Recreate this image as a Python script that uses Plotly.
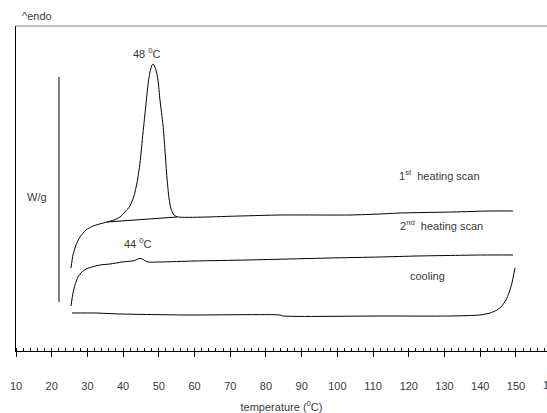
import plotly.graph_objects as go

# 1st heating scan (temperature, signal)
heat1_t = [25.40, 25.96, 26.80, 27.92, 29.60, 31.56, 35.48, 37.44, 39.12, 40.52, 41.92, 43.04, 43.88,
           44.72, 45.56, 46.40, 46.96, 47.52, 48.08, 48.36, 48.64, 49.20, 49.76, 50.32, 51.16, 51.72,
           52.28, 52.84, 53.40, 54.24, 55.36, 72.73, 83.93, 103.53, 111.93, 117.53, 132.37, 142.73, 149.17]
heat1_v = [83, 96, 106, 114, 121, 125, 129, 131, 134, 139, 145, 155, 168,
           188, 218, 247, 266, 279, 286, 287, 286, 281, 271, 251, 226, 201,
           173, 153, 142, 136, 134, 135, 136, 136, 137, 138, 139, 140, 140]

# integration baseline under the melting peak
base_t = [35.48, 55.08]
base_v = [129, 134]

# 2nd heating scan
heat2_t = [25.40, 25.96, 26.52, 27.36, 28.48, 29.60, 31.28, 33.52, 36.32, 39.68, 42.48, 43.60, 44.44,
           45.00, 45.84, 46.96, 50.32, 60.13, 74.69, 86.73, 97.93, 111.93, 122.29, 140.77, 149.17]
heat2_v = [45, 58, 66, 74, 79, 82, 84, 86, 87, 89, 90, 91, 92.5,
           92.5, 91, 89, 89, 90, 91, 92, 93, 94, 95, 96, 96]

# cooling
cool_t = [25.68, 32.12, 39.12, 57.88, 83.93, 84.77, 111.93, 131.53, 139.93, 142.73, 144.69, 146.07,
          147.21, 148.05, 148.89, 149.73]
cool_v = [38, 38, 37, 36, 36, 35, 35, 35, 36, 38, 41, 45, 51, 58, 68, 83]

# W/g scale bar
bar_t = [22.04, 22.04]
bar_v = [49, 274]

tick_vals = list(range(10, 161, 10))
x_range = [10, 158.7]

fig = go.Figure()
for t, v, shape in [(heat1_t, heat1_v, "spline"), (base_t, base_v, "linear"),
                    (heat2_t, heat2_v, "spline"), (cool_t, cool_v, "spline"),
                    (bar_t, bar_v, "linear")]:
    ln = dict(color="black", width=1, shape=shape)
    if shape == "spline":
        ln["smoothing"] = 0.6
    fig.add_trace(go.Scatter(x=t, y=v, mode="lines", line=ln, showlegend=False, hoverinfo="skip"))

txt = dict(family="Liberation Sans, Arial, sans-serif", size=11, color="#3a3a3a")
ann = [
    dict(x=46.68, y=298, text="48 <sup>0</sup>C"),
    dict(x=44.16, y=108, text="44 <sup>0</sup>C"),
    dict(x=128.73, y=176, text="1<sup>st</sup>  heating scan"),
    dict(x=129.29, y=126, text="2<sup>nd</sup>  heating scan"),
    dict(x=125.37, y=75, text="cooling"),
    dict(x=15.88, y=154, text="W/g"),
]
annotations = [dict(a, xref="x", yref="y", showarrow=False, font=txt) for a in ann]
annotations.append(dict(x=21 / 531, y=(351 - 16) / 325, xref="paper", yref="paper", text="^endo",
                        showarrow=False, font=txt, xanchor="center", yanchor="middle"))
# last tick label, partly cut off by the page edge as in the reference
last_frac = (tick_vals[-1] - x_range[0]) / (x_range[1] - x_range[0])
annotations.append(dict(x=last_frac, y=-(385 - 351) / 325, xref="paper", yref="paper",
                        text=str(tick_vals[-1]), showarrow=False, font=txt,
                        xanchor="center", yanchor="middle"))

fig.update_layout(
    width=547, height=413,
    margin=dict(l=16, r=0, t=26, b=62),
    paper_bgcolor="white", plot_bgcolor="white",
    font=txt,
    annotations=annotations,
    shapes=[dict(type="line", xref="paper", yref="paper", x0=0, x1=1, y0=1, y1=1,
                 line=dict(color="#808080", width=1))],
    xaxis=dict(range=x_range, tickvals=tick_vals, ticks="outside", ticklen=5, tickcolor="black",
               showline=True, linecolor="black", linewidth=1, showgrid=False, zeroline=False,
               ticklabelstandoff=20, tickfont=txt,
               minor=dict(dtick=2, ticks="inside", ticklen=3, tickcolor="black", showgrid=False),
               title=dict(text="temperature (<sup>0</sup>C)", font=txt, standoff=12)),
    yaxis=dict(range=[0, 325], showline=True, linecolor="black", linewidth=1, showgrid=False,
               zeroline=False, showticklabels=False, ticks=""),
)

fig.write_html("out.html")
